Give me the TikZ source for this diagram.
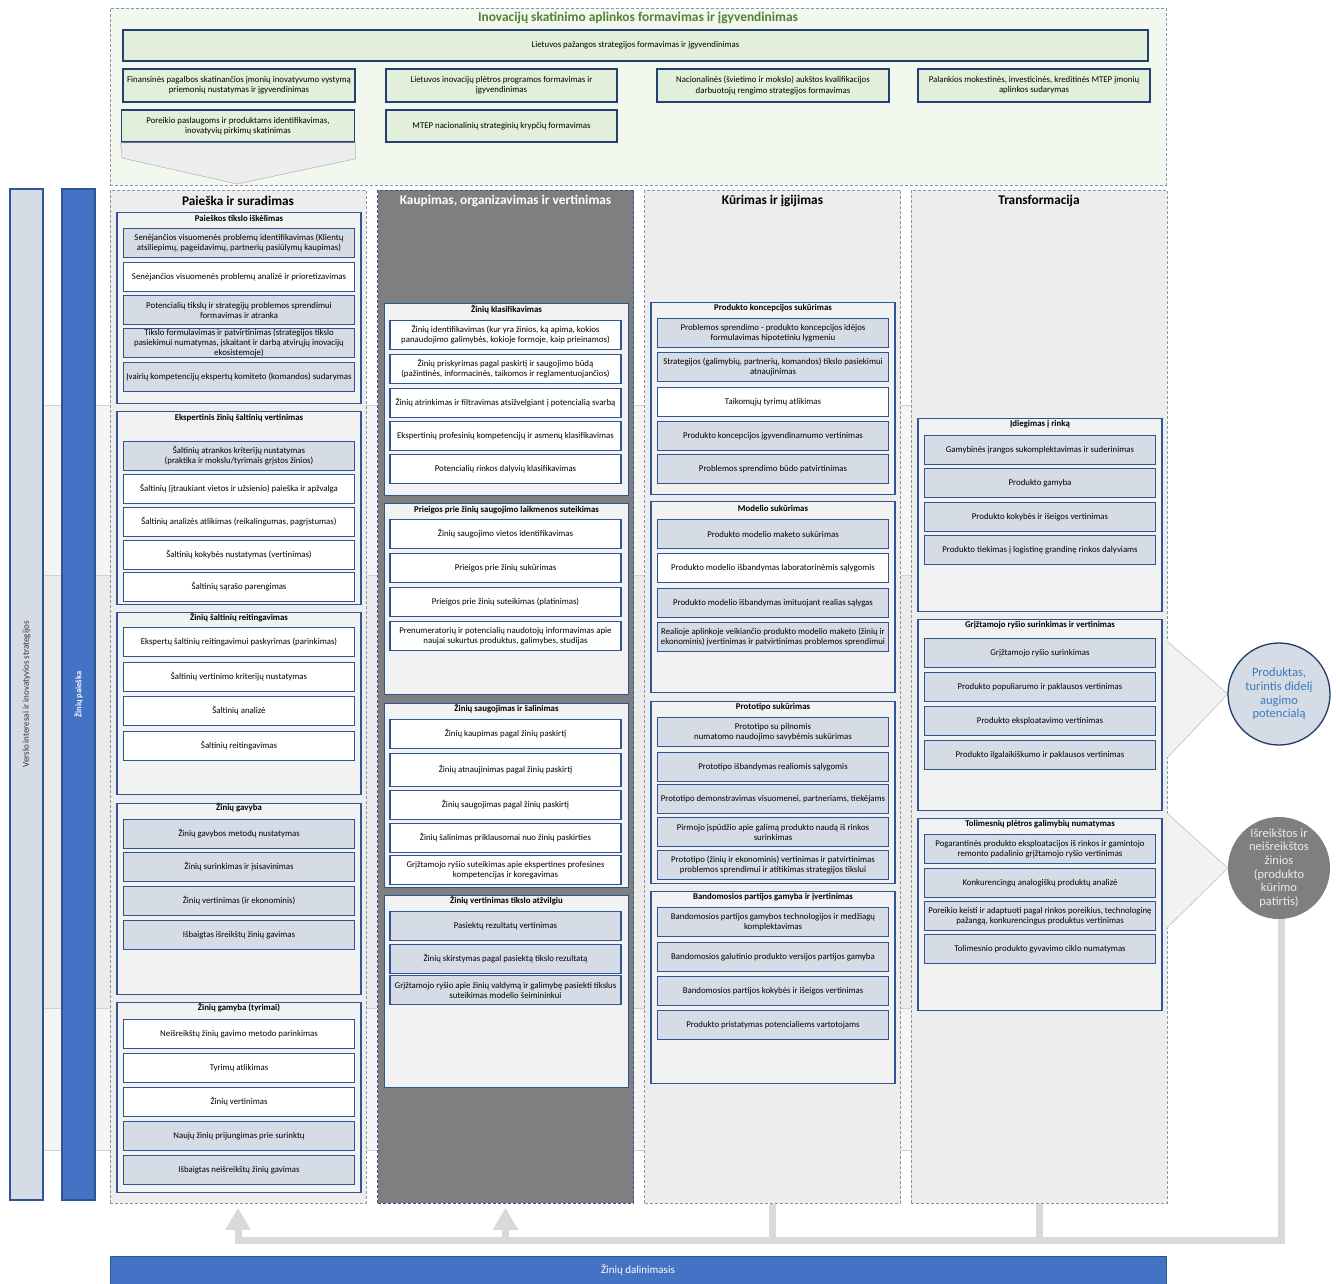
\documentclass[tikz,border=0pt]{standalone}
\usepackage{fontspec}
\setmainfont{Carlito}
\usetikzlibrary{arrows.meta}

\definecolor{navy}{HTML}{2F5597}
\definecolor{shd}{HTML}{D6DCE5}
\definecolor{grpbg}{HTML}{F2F2F2}
\definecolor{colbg}{HTML}{EDEDED}
\definecolor{darkcol}{HTML}{7F7F7F}
\definecolor{dashc}{HTML}{8497B0}
\definecolor{envbg}{HTML}{F3F8EF}
\definecolor{envbox}{HTML}{E2EFDA}
\definecolor{envtitle}{HTML}{538135}
\definecolor{midblue}{HTML}{4472C4}
\definecolor{fbgrey}{HTML}{D9D9D9}
\definecolor{circtext}{HTML}{3A7BBF}
\definecolor{bandA}{HTML}{F5F5F5}
\definecolor{bandB}{HTML}{EBEBEB}

\tikzset{
  itembox/.style={draw=navy, line width=1.4pt, minimum width=231pt, minimum height=29pt, inner sep=0pt},
  sh/.style={itembox, fill=shd},
  wh/.style={itembox, fill=white},
  itemtext/.style={align=center, font=\fontsize{8.8}{10}\selectfont, inner sep=0pt},
  grp/.style={draw=navy, line width=1.1pt, fill=grpbg, minimum width=244pt, inner sep=0pt, anchor=north},
  grptitle/.style={font=\fontsize{8.8}{10}\selectfont\bfseries, inner sep=0pt},
  colbox/.style={draw=dashc, dash pattern=on 3pt off 2pt, line width=0.9pt, fill=colbg,
                 minimum width=256pt, minimum height=1013pt, anchor=north, inner sep=0pt},
  coltitle/.style={font=\fontsize{13.3}{15}\selectfont\bfseries, inner sep=0pt},
  envbx/.style={draw=navy!75!black, line width=1.7pt, fill=envbox, align=center,
                font=\fontsize{8.8}{10.2}\selectfont, inner sep=0pt},
  band/.style={draw=black!18, line width=0.5pt},
  funnel/.style={fill=grpbg, draw=black!25, line width=0.6pt},
  fb/.style={draw=fbgrey, line width=7pt},
  fbtip/.style={-{Triangle[width=24pt,length=22pt]}},
  sidebar/.style={rotate=90, minimum width=1011pt, minimum height=33pt, inner sep=0pt, line width=1.2pt, draw=navy},
  outcome/.style={circle, minimum size=102pt, inner sep=0pt, align=center, font=\fontsize{12.5}{13.6}\selectfont}
}

% an item box with its centred label
\newcommand\boxitem[5]{\node[#1] (#2) at (#3,#4) {};\node[itemtext] (#2t) at (#2.center) {#5};}
% a group frame with its bold heading
\newcommand\grpbox[6]{\node[grp, minimum height={#4-#3}] (#1) at (#2,#3) {};\node[grptitle] (#1t) at (#2,#5) {#6};}

\begin{document}
\begin{tikzpicture}[x=1pt,y=-1pt]
\useasboundingbox (0,0) rectangle (1336,1284);

% ---------- background row bands ----------
\path[band, fill=bandA] (26,405) rectangle (1166,575);
\path[band, fill=bandB] (26,575) rectangle (1166,1008);
\path[band, fill=bandA] (26,1008) rectangle (1166,1150);

% ---------- innovation environment panel ----------
\node[draw=dashc, dash pattern=on 3pt off 2pt, line width=0.9pt, fill=envbg,
      minimum width=1056pt, minimum height=177pt, anchor=north west, inner sep=0pt] (env) at (110,8) {};
\node[font=\fontsize{13.4}{15}\selectfont\bfseries, text=envtitle, inner sep=0pt] (envt) at (638,18)
  {Inovacijų skatinimo aplinkos formavimas ir įgyvendinimas};
\node[envbx, minimum width=1025pt, minimum height=31pt] (e0) at (635.5,45.5)
  {Lietuvos pažangos strategijos formavimas ir įgyvendinimas};
\node[envbx, minimum width=232pt, minimum height=33pt] (e1) at (239,85.5)
  {Finansinės pagalbos skatinančios įmonių inovatyvumo vystymą\\priemonių nustatymas ir įgyvendinimas};
\node[envbx, minimum width=231pt, minimum height=33pt] (e2) at (501.5,85.5)
  {Lietuvos inovacijų plėtros programos formavimas ir\\įgyvendinimas};
\node[envbx, minimum width=232pt, minimum height=33pt] (e3) at (773,85.5)
  {Nacionalinės (švietimo ir mokslo) aukštos kvalifikacijos\\darbuotojų rengimo strategijos formavimas};
\node[envbx, minimum width=232pt, minimum height=33pt] (e4) at (1034,85.5)
  {Palankios mokestinės, investicinės, kreditinės MTEP įmonių\\aplinkos sudarymas};
\node[envbx, minimum width=233pt, minimum height=32pt] (e5) at (238,126)
  {Poreikio paslaugoms ir produktams identifikavimas,\\inovatyvių pirkimų skatinimas};
\node[envbx, minimum width=231pt, minimum height=32pt] (e6) at (501.5,126)
  {MTEP nacionalinių strateginių krypčių formavimas};
% chevron pointing down into the first column
\draw[fill=colbg, draw=black!28, line width=0.6pt]
  (e5.south west) -- (e5.south east) -- ++(0,16) -- (237,184) -- (122,158) -- cycle;

% ---------- side bars ----------
\node[sidebar, fill=shd, text=black!80, font=\fontsize{9}{10}\selectfont] (bar1) at (26.5,694.5)
  {Verslo interesai ir inovatyvios strategijos};
\node[sidebar, fill=midblue, text=white, font=\fontsize{8.4}{10}\selectfont\bfseries] (bar2) at (78.5,694.5)
  {Žinių paieška};

% ---------- columns ----------
\node[colbox] (col1) at (238,190) {};
\node[colbox, fill=darkcol, draw=navy] (col2) at (505.5,190) {};
\node[colbox] (col3) at (772.5,190) {};
\node[colbox] (col4) at (1039,190) {};
\node[coltitle] (col1t) at (238,201) {Paieška ir suradimas};
\node[coltitle, text=white] (col2t) at (505.5,201) {Kaupimas, organizavimas ir vertinimas};
\node[coltitle] (col3t) at (772.5,201) {Kūrimas ir  įgijimas};
\node[coltitle] (col4t) at (1039,201) {Transformacija};

% ---------- column 1: search ----------
\grpbox{ga}{239}{212}{403}{218}{Paieškos tikslo iškėlimas}
\boxitem{sh}{a1}{239}{243}{Senėjančios visuomenės problemų identifikavimas (Klientų\\atsiliepimų, pageidavimų, partnerių pasiūlymų kaupimas)}
\boxitem{wh}{a2}{239}{277}{Senėjančios visuomenės problemų analizė ir prioretizavimas}
\boxitem{sh}{a3}{239}{310}{Potencialių tikslų ir strategijų problemos sprendimui\\formavimas ir atranka}
\boxitem{sh}{a4}{239}{343}{Tikslo formulavimas ir patvirtinimas (strategijos tikslo\\pasiekimui numatymas, įskaitant ir darbą atvirųjų inovacijų\\ekosistemoje)}
\boxitem{sh}{a5}{239}{377}{Įvairių kompetencijų ekspertų komiteto (komandos) sudarymas}

\grpbox{gb}{239}{411}{604}{418}{Ekspertinis žinių šaltinių vertinimas}
\boxitem{sh}{b1}{239}{456}{Šaltinių atrankos kriterijų nustatymas\\(praktika ir mokslu/tyrimais grįstos žinios)}
\boxitem{wh}{b2}{239}{489}{Šaltinių (įtraukiant vietos ir užsienio) paieška ir apžvalga}
\boxitem{wh}{b3}{239}{522}{Šaltinių analizės atlikimas (reikalingumas, pagrįstumas)}
\boxitem{wh}{b4}{239}{555}{Šaltinių kokybės nustatymas (vertinimas)}
\boxitem{wh}{b5}{239}{587}{Šaltinių sąrašo parengimas}

\grpbox{gc}{239}{612}{794}{618}{Žinių šaltinių reitingavimas}
\boxitem{wh}{c1}{239}{642}{Ekspertų šaltinių reitingavimui paskyrimas (parinkimas)}
\boxitem{wh}{c2}{239}{677}{Šaltinių vertinimo kriterijų nustatymas}
\boxitem{wh}{c3}{239}{711}{Šaltinių analizė}
\boxitem{wh}{c4}{239}{746}{Šaltinių reitingavimas}

\grpbox{gd}{239}{803}{994}{808}{Žinių gavyba}
\boxitem{sh}{d1}{239}{834}{Žinių gavybos metodų nustatymas}
\boxitem{sh}{d2}{239}{867}{Žinių surinkimas ir įsisavinimas}
\boxitem{sh}{d3}{239}{901}{Žinių vertinimas (ir ekonominis)}
\boxitem{sh}{d4}{239}{935}{Išbaigtas išreikštų žinių gavimas}

\grpbox{ge}{239}{1002}{1192}{1008}{Žinių gamyba (tyrimai)}
\boxitem{wh}{e1x}{239}{1034}{Neišreikštų žinių gavimo metodo parinkimas}
\boxitem{wh}{e2x}{239}{1068}{Tyrimų atlikimas}
\boxitem{wh}{e3x}{239}{1102}{Žinių vertinimas}
\boxitem{sh}{e4x}{239}{1136}{Naujų žinių prijungimas prie surinktų}
\boxitem{sh}{e5x}{239}{1170}{Išbaigtas neišreikštų žinių gavimas}

% ---------- column 2: storage and evaluation ----------
\grpbox{gf}{506.5}{303}{495}{310}{Žinių klasifikavimas}
\boxitem{wh}{f1}{505.5}{335}{Žinių identifikavimas (kur yra žinios, ką apima, kokios\\panaudojimo galimybės, kokioje formoje, kaip prieinamos)}
\boxitem{wh}{f2}{505.5}{369}{Žinių priskyrimas pagal paskirtį ir saugojimo būdą\\(pažintinės, informacinės, taikomos ir reglamentuojančios)}
\boxitem{wh}{f3}{505.5}{403}{Žinių atrinkimas ir filtravimas atsižvelgiant į potencialią svarbą}
\boxitem{wh}{f4}{505.5}{436}{Ekspertinių profesinių kompetencijų ir asmenų klasifikavimas}
\boxitem{wh}{f5}{505.5}{469}{Potencialių rinkos dalyvių klasifikavimas}

\grpbox{gg}{506.5}{503}{694}{510}{Prieigos prie žinių saugojimo laikmenos suteikimas}
\boxitem{wh}{g1}{505.5}{534}{Žinių saugojimo vietos identifikavimas}
\boxitem{wh}{g2}{505.5}{568}{Prieigos prie žinių sukūrimas}
\boxitem{wh}{g3}{505.5}{602}{Prieigos prie žinių suteikimas (platinimas)}
\boxitem{wh}{g4}{505.5}{636}{Prenumeratorių ir potencialių naudotojų informavimas apie\\naujai sukurtus produktus, galimybes, studijas}

\grpbox{gh}{506.5}{703}{887}{709}{Žinių saugojimas ir šalinimas}
\boxitem{wh}{h1}{505.5}{734}{Žinių kaupimas pagal žinių paskirtį}
\boxitem{wh, minimum height=33pt}{h2}{505.5}{770}{Žinių atnaujinimas pagal žinių paskirtį}
\boxitem{wh}{h3}{505.5}{805}{Žinių saugojimas pagal žinių paskirtį}
\boxitem{wh}{h4}{505.5}{838}{Žinių šalinimas priklausomai nuo žinių paskirties}
\boxitem{wh}{h5}{505.5}{870}{Grįžtamojo ryšio suteikimas apie ekspertines profesines\\kompetencijas ir koregavimas}

\grpbox{gi}{506.5}{895}{1087}{901}{Žinių vertinimas tikslo atžvilgiu}
\boxitem{sh}{i1}{505.5}{926}{Pasiektų rezultatų vertinimas}
\boxitem{sh}{i2}{505.5}{959}{Žinių skirstymas pagal pasiektą tikslo rezultatą}
\boxitem{sh}{i3}{505.5}{990}{Grįžtamojo ryšio apie žinių valdymą ir galimybę pasiekti tikslus\\suteikimas modelio šeimininkui}

% ---------- column 3: creation ----------
\grpbox{gj}{773}{302}{494}{308}{Produkto koncepcijos sukūrimas}
\boxitem{sh}{j1}{773}{333}{Problemos sprendimo - produkto koncepcijos idėjos\\formulavimas hipotetiniu lygmeniu}
\boxitem{sh}{j2}{773}{367}{Strategijos (galimybių, partnerių, komandos) tikslo pasiekimui\\atnaujinimas}
\boxitem{wh}{j3}{773}{402}{Taikomųjų tyrimų atlikimas}
\boxitem{sh}{j4}{773}{436}{Produkto koncepcijos įgyvendinamumo vertinimas}
\boxitem{sh}{j5}{773}{469}{Problemos sprendimo būdo patvirtinimas}

\grpbox{gk}{773}{501}{692}{508}{Modelio sukūrimas}
\boxitem{sh}{k1x}{773}{534}{Produkto modelio maketo sukūrimas}
\boxitem{wh}{k2x}{773}{568}{Produkto modelio išbandymas laboratorinėmis sąlygomis}
\boxitem{sh}{k3x}{773}{603}{Produkto modelio išbandymas imituojant realias sąlygas}
\boxitem{sh}{k4x}{773}{637}{Realioje aplinkoje veikiančio produkto modelio maketo (žinių ir\\ekonominis) įvertinimas  ir  patvirtinimas problemos sprendimui}

\grpbox{gl}{773}{701}{883}{707}{Prototipo sukūrimas}
\boxitem{sh}{l1}{773}{732}{Prototipo su pilnomis\\numatomo naudojimo savybėmis sukūrimas}
\boxitem{sh}{l2}{773}{767}{Prototipo išbandymas realiomis sąlygomis}
\boxitem{sh}{l3}{773}{799}{Prototipo demonstravimas visuomenei, partneriams, tiekėjams}
\boxitem{sh}{l4}{773}{832}{Pirmojo įspūdžio apie galimą produkto naudą iš rinkos\\surinkimas}
\boxitem{sh}{l5}{773}{865}{Prototipo (žinių ir ekonominis) vertinimas ir patvirtinimas\\problemos sprendimui ir  atitikimas strategijos tikslui}

\grpbox{gm}{773}{891}{1083}{897}{Bandomosios partijos gamyba  ir įvertinimas}
\boxitem{sh}{m1}{773}{922}{Bandomosios partijos gamybos technologijos ir medžiagų\\komplektavimas}
\boxitem{sh}{m2}{773}{957}{Bandomosios galutinio produkto versijos partijos gamyba}
\boxitem{sh}{m3}{773}{991}{Bandomosios partijos kokybės ir išeigos vertinimas}
\boxitem{sh}{m4}{773}{1025}{Produkto pristatymas potencialiems vartotojams}

% ---------- column 4: transformation ----------
\grpbox{gn}{1040}{418}{611}{424}{Įdiegimas į rinką}
\boxitem{sh}{n1}{1040}{450}{Gamybinės įrangos sukomplektavimas ir suderinimas}
\boxitem{sh}{n2}{1040}{483}{Produkto gamyba}
\boxitem{sh}{n3}{1040}{517}{Produkto kokybės ir išeigos vertinimas}
\boxitem{sh}{n4}{1040}{550}{Produkto tiekimas į logistinę grandinę rinkos dalyviams}

\grpbox{go}{1040}{619}{810}{625}{Grįžtamojo ryšio surinkimas ir vertinimas}
\boxitem{sh}{o1}{1040}{653}{Grįžtamojo ryšio surinkimas}
\boxitem{sh}{o2}{1040}{687}{Produkto populiarumo ir paklausos vertinimas}
\boxitem{sh}{o3}{1040}{721}{Produkto eksploatavimo vertinimas}
\boxitem{sh}{o4}{1040}{755}{Produkto ilgalaikiškumo ir paklausos vertinimas}

\grpbox{gp}{1040}{818}{1010}{824}{Tolimesnių plėtros galimybių numatymas}
\boxitem{sh}{p1}{1040}{849}{Pogarantinės produkto eksploatacijos iš rinkos ir gamintojo\\remonto padalinio grįžtamojo ryšio vertinimas}
\boxitem{sh}{p2}{1040}{883}{Konkurencingų analogiškų produktų analizė}
\boxitem{sh}{p3}{1040}{916}{Poreikio keisti ir adaptuoti pagal rinkos poreikius, technologinę\\pažangą, konkurencingus produktus vertinimas}
\boxitem{sh}{p4}{1040}{949}{Tolimesnio produkto gyvavimo ciklo numatymas}

% ---------- outcome circles with their funnels ----------
\coordinate (f1a) at (1167,641);
\coordinate (f1b) at (1167,758);
\coordinate (f2a) at (1167,813);
\coordinate (f2b) at (1167,928);
\node[outcome] (k1) at (1279,694) {};
\node[outcome] (k2) at (1279,868) {};
\draw[funnel] (f1a) -- (k1.west) -- (f1b);
\draw[funnel] (f2a) -- (k2.west) -- (f2b);
\node[outcome, fill=shd, draw=navy!70!black, line width=1.3pt, text=circtext] (k1c) at (k1)
  {Produktas,\\turintis didelį\\augimo\\potencialą};
\node[outcome, fill=darkcol, text=black!8] (k2c) at (k2)
  {Išreikštos ir\\neišreikštos\\žinios\\(produkto\\kūrimo\\patirtis)};

% ---------- knowledge feedback loop ----------
\coordinate (bus) at (1281,1240);
\draw[fb] (col3.south) -- (col3.south |- bus);
\draw[fb] (col4.south) -- (col4.south |- bus);
\draw[fb, fbtip] (bus |- k2c.south) -- (bus) -- (col1.south |- bus) -- ([yshift=-4pt]col1.south);
\draw[fb, fbtip] (col2.south |- bus) -- ([yshift=-4pt]col2.south);

% ---------- sharing bar ----------
\node[fill=midblue, draw=navy, line width=0.8pt, minimum width=1056pt, minimum height=28pt,
      inner sep=0pt, text=white, font=\fontsize{11}{12}\selectfont] (share) at (638,1270)
  {Žinių dalinimasis};
\end{tikzpicture}
\end{document}
